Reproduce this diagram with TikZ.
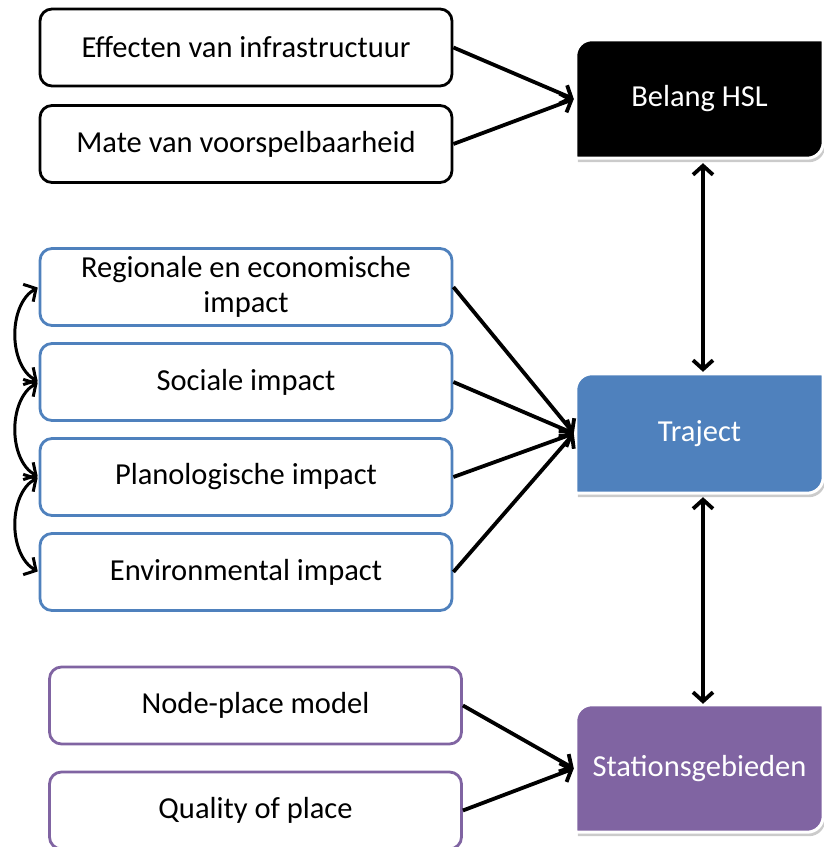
\documentclass[tikz,border=0pt]{standalone}
\usepackage{fontspec}
\setmainfont{Carlito}
\usetikzlibrary{arrows.meta,backgrounds,calc}

\definecolor{officeblue}{HTML}{4F81BD}
\definecolor{officepurple}{HTML}{8064A2}

\tikzset{
  factor/.style={draw, line width=2.8pt, rounded corners=12pt, fill=white,
    minimum width=412pt, minimum height=77pt, inner sep=0pt, align=center,
    font=\fontsize{30.5}{35}\selectfont},
  blackfactor/.style={factor, draw=black},
  bluefactor/.style={factor, draw=officeblue},
  purplefactor/.style={factor, draw=officepurple},
  keybox/.style={minimum width=247pt, inner sep=0pt, text=white,
    font=\fontsize{30.5}{35}\selectfont},
  vtip/.tip={Straight Barb[length=9pt,width=20pt]},
  conn/.style={line width=3.8pt, -vtip},
  dconn/.style={line width=3.8pt, vtip-vtip},
  loopconn/.style={line width=3pt, vtip-vtip, shorten <=1pt, shorten >=1pt},
}

\begin{document}
\begin{tikzpicture}[x=1pt,y=1pt]
\useasboundingbox (0,0) rectangle (824,847);

% input factors
\node[blackfactor] (eff)  at (246,799.5) {Effecten van infrastructuur};
\node[blackfactor] (mate) at (246,703)   {Mate van voorspelbaarheid};

\node[bluefactor] (reg)  at (246,560) {Regionale en economische\\impact};
\node[bluefactor] (soc)  at (246,465) {Sociale impact};
\node[bluefactor] (plan) at (246,370) {Planologische impact};
\node[bluefactor] (env)  at (246,275) {Environmental impact};

\node[purplefactor] (npm) at (255.5,141.5) {Node-place model};
\node[purplefactor] (qop) at (255.5,36.5)  {Quality of place};

% key themes on the right
\node[keybox, minimum height=118pt] (belang)   at (699.5,748)   {Belang HSL};
\node[keybox, minimum height=119pt] (traject)  at (699.5,413.5) {Traject};
\node[keybox, minimum height=127pt] (stations) at (699.5,78.5)  {Stationsgebieden};

% diagonal-rounded boxes with a soft shadow behind the key themes
\begin{scope}[on background layer]
\foreach \n/\c in {belang/black, traject/officeblue, stations/officepurple}{
  \fill[black!45, opacity=.45]
    ($(\n.south west)+(2,-4)$) -- ($(\n.north west)+(2,-20)$)
    arc[start angle=180,end angle=90,radius=16pt]
    -- ($(\n.north east)+(2,-4)$) -- ($(\n.south east)+(2,12)$)
    arc[start angle=0,end angle=-90,radius=16pt] -- cycle;
  \path[fill=\c, draw=white, line width=3pt]
    (\n.south west) -- ($(\n.north west)+(0,-16)$)
    arc[start angle=180,end angle=90,radius=16pt]
    -- (\n.north east) -- ($(\n.south east)+(0,16)$)
    arc[start angle=0,end angle=-90,radius=16pt] -- cycle;
}
\end{scope}

% factors feeding the key themes
\draw[conn] (eff.east)  -- ([xshift=-2pt]belang.west);
\draw[conn] (mate.east) -- ([xshift=-2pt]belang.west);

\foreach \f in {reg, soc, plan, env}
  \draw[conn] (\f.east) -- ([xshift=-2pt]traject.west);

\draw[conn] (npm.east) -- ([xshift=-2pt]stations.west);
\draw[conn] (qop.east) -- ([xshift=-2pt]stations.west);

% links between the key themes
\draw[dconn] ([xshift=3.5pt,yshift=-5pt]belang.south)
          -- ([xshift=3.5pt,yshift=2pt]traject.north);
\draw[dconn] ([xshift=3.5pt,yshift=-4pt]traject.south)
          -- ([xshift=3.5pt,yshift=1pt]stations.north);

% mutual influence between the impacts
\draw[loopconn] (reg.west)  to[out=210,in=150,looseness=0.95] (soc.west);
\draw[loopconn] (soc.west)  to[out=210,in=150,looseness=0.95] (plan.west);
\draw[loopconn] (plan.west) to[out=210,in=150,looseness=0.95] (env.west);

\end{tikzpicture}
\end{document}
